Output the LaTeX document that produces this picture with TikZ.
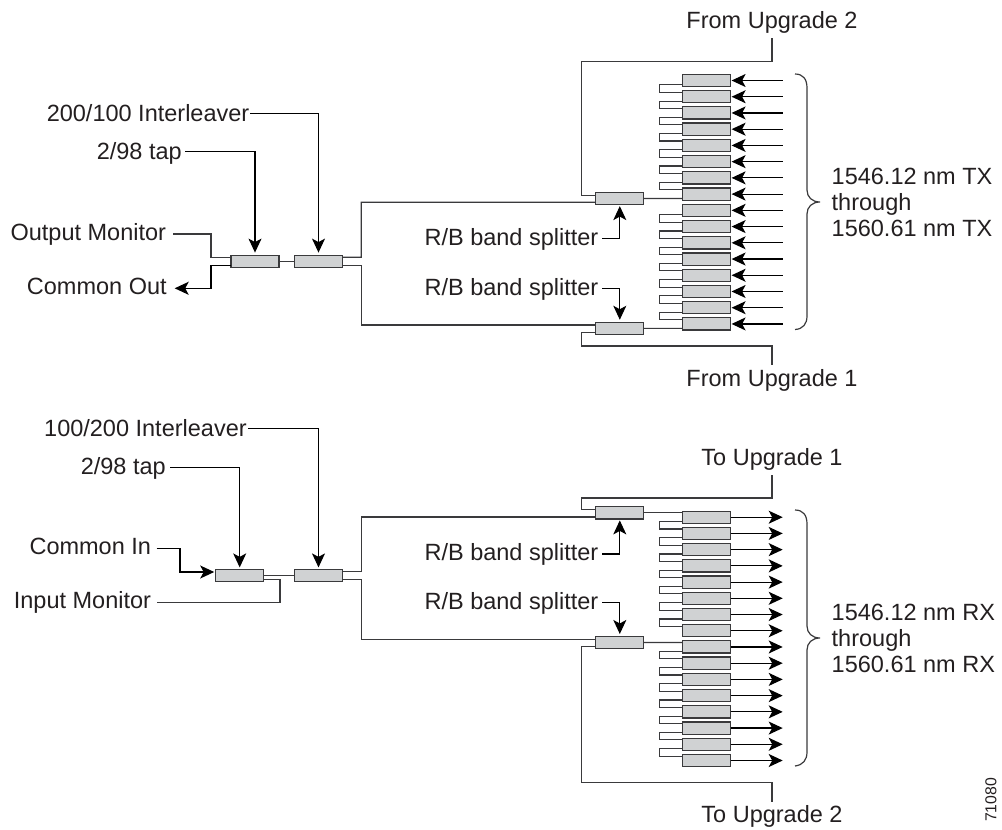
\documentclass[tikz,border=0pt]{standalone}
\usepackage{fontspec}
\setmainfont{Liberation Sans}
\usetikzlibrary{arrows.meta,calc}
\definecolor{boxfill}{HTML}{D0D2D3}
\definecolor{ink}{HTML}{3A3A3C}
\definecolor{txt}{HTML}{231F20}
\tikzset{
  dev/.style={draw=ink,fill=boxfill,line width=1.2pt,minimum width=48pt,minimum height=12.2pt,inner sep=0pt,outer sep=0pt},
  wire/.style={draw=ink,line width=1.15pt},
  arrowed/.style={draw=black,line width=1.15pt,-{Stealth[length=14pt,width=13pt,inset=3.5pt]}},
  lab/.style={text=txt,font=\fontsize{23.5}{26}\selectfont,inner ysep=0pt,inner xsep=0pt,outer sep=0pt,text height=16.8pt,text depth=0pt},
  labs/.style={text=txt,font=\fontsize{23.5}{26}\selectfont,inner sep=0pt,outer sep=0pt,align=left},
  bracepath/.style={draw=ink,line width=1.2pt}
}
\begin{document}
\begin{tikzpicture}[x=1pt,y=-1pt]
\useasboundingbox (0,0) rectangle (1002,830);
% --- upper rack
\foreach \i in {0,...,15}{
  \node[dev] (u\i) at (706.6,{80.5+16.23*\i}) {};
  \coordinate (ua\i) at (782.7,{80.5+16.23*\i});
  \draw[arrowed,shorten >=1pt] (ua\i) -- (u\i.east);
}
\foreach \i/\j in {0/1,1/2,2/3,3/4,4/5,5/6,6/7,8/9,9/10,10/11,11/12,12/13,13/14,14/15}{
  \draw[wire] ([yshift=-4.4pt]u\i.west) -- ++(-23.5,0) |- ([yshift=4.4pt]u\j.west);
}
% --- lower rack
\foreach \i in {0,...,15}{
  \node[dev] (l\i) at (706.6,{517.2+16.22*\i}) {};
  \coordinate (la\i) at (782.7,{517.2+16.22*\i});
  \draw[arrowed] (l\i.east) -- (la\i);
}
\foreach \i/\j in {0/1,1/2,2/3,3/4,4/5,5/6,6/7,8/9,9/10,10/11,11/12,12/13,13/14,14/15}{
  \draw[wire] ([yshift=-4.4pt]l\i.west) -- ++(-23.5,0) |- ([yshift=4.4pt]l\j.west);
}
% --- splitters
\node[dev] (su1) at (619.8,198.51) {};
\node[dev] (su2) at (619.8,328.35) {};
\node[dev] (sl1) at (619.8,512.8) {};
\node[dev] (sl2) at (619.8,642.56) {};
% --- interleavers and taps
\node[dev] (ta) at (255,261.2) {};
\node[dev] (ia) at (318.5,261.2) {};
\node[dev] (tb) at (239.7,575.5) {};
\node[dev] (ib) at (318.5,575.5) {};
% --- labels
\node[lab,anchor=center] (fu2) at (772,19.7) {From Upgrade 2};
\node[lab,anchor=center] (fu1) at (772,378.3) {From Upgrade 1};
\node[lab,anchor=center] (tu1) at (772,456.7) {To Upgrade 1};
\node[lab,anchor=center] (tu2) at (772,814) {To Upgrade 2};
\node[lab,anchor=east,inner xsep=0.7pt] (i200) at (250,113.3) {200/100 Interleaver};
\node[lab,anchor=east,inner xsep=3.3pt] (t298a) at (185,150.8) {2/98 tap};
\node[lab,anchor=east,inner xsep=7.3pt] (om) at (173.3,231.7) {Output Monitor};
\node[lab,anchor=east,inner xsep=8pt] (co) at (174.7,285.7) {Common Out};
\node[lab,anchor=east,inner xsep=4pt] (rb1) at (602.3,236.7) {R/B band splitter};
\node[lab,anchor=east,inner xsep=4pt] (rb2) at (602.3,286.7) {R/B band splitter};
\node[lab,anchor=east,inner xsep=1.3pt] (i100) at (248,428.5) {100/200 Interleaver};
\node[lab,anchor=east,inner xsep=4.3pt] (t298b) at (170,466) {2/98 tap};
\node[lab,anchor=east,inner xsep=5.7pt] (ci) at (156.7,546.3) {Common In};
\node[lab,anchor=east,inner xsep=6pt] (im) at (157,600) {Input Monitor};
\node[lab,anchor=east,inner xsep=4pt] (rb3) at (602.3,552.4) {R/B band splitter};
\node[lab,anchor=east,inner xsep=4pt] (rb4) at (602.3,601) {R/B band splitter};
\node[labs,anchor=west] (txl) at (831.7,202.7) {1546.12 nm TX\\through\\1560.61 nm TX};
\node[labs,anchor=west] (rxl) at (831.7,638.7) {1546.12 nm RX\\through\\1560.61 nm RX};
\node[text=txt,font=\fontsize{15.8}{18}\selectfont,rotate=90,inner sep=0pt] (code) at (991,800) {71080};
% --- upper left wiring
\draw[wire] (ta.east) -- (ia.west);
\draw[wire] ([yshift=-2.3pt]om.east) -| (211,257.3) -- ([yshift=3.9pt]ta.west);
\draw[arrowed] ([yshift=-3.9pt]ta.west) -| (211,288.3) -- ([yshift=-2.6pt]co.east);
\draw[arrowed,shorten >=2.5pt] ([yshift=-0.9pt]t298a.east) -| (ta.north);
\draw[arrowed,shorten >=2.5pt] (i200.east) -| (ia.north);
\draw[wire] ([yshift=3.9pt]ia.east) -| (361.3,202.3) -- ([yshift=-3.8pt]su1.west);
\draw[wire] ([yshift=-3.9pt]ia.east) -| (361.3,325) -- ([yshift=3.35pt]su2.west);
% --- upper right wiring
\draw[wire,shorten >=10.2pt] ([yshift=3.2pt]su1.west) -| (581.3,61.7) -| (fu2.south);
\draw[wire,shorten >=4.9pt] ([yshift=-4.3pt]su2.west) -| (581.3,346) -| (fu1.north);
\draw[wire] (su1.east) -- ([yshift=-4.4pt]u7.west);
\draw[wire] (su2.east) -- ([yshift=-4.4pt]u15.west);
\draw[arrowed,shorten >=1.5pt] ([yshift=-1.6pt]rb1.east) -| (su1.south);
\draw[arrowed,shorten >=2.5pt] ([yshift=-1.6pt]rb2.east) -| (su2.north);
% --- lower left wiring
\draw[wire] (tb.east) -- (ib.west);
\draw[arrowed,shorten >=1.5pt] ([yshift=-2pt]ci.east) -| (180,572) -- ([yshift=3.5pt]tb.west);
\draw[wire] ([yshift=-2.7pt]im.east) -| (280,579.3) -- ([yshift=-3.8pt]tb.east);
\draw[arrowed,shorten >=2pt] ([yshift=-1.3pt]t298b.east) -| (tb.north);
\draw[arrowed,shorten >=2pt] (i100.east) -| (ib.north);
\draw[wire] ([yshift=3.8pt]ib.east) -| (361.3,517) -- ([yshift=-4.2pt]sl1.west);
\draw[wire] ([yshift=-3.8pt]ib.east) -| (361.3,639.3) -- ([yshift=3.26pt]sl2.west);
% --- lower right wiring
\draw[wire,shorten >=9.9pt] ([yshift=3.1pt]sl1.west) -| (581.3,498) -| (tu1.south);
\draw[wire,shorten >=3.9pt] ([yshift=-4.14pt]sl2.west) -| (581.3,782.3) -| (tu2.north);
\draw[wire] (sl1.east) -- ([yshift=4.4pt]l0.west);
\draw[wire] (sl2.east) -- ([yshift=4.4pt]l8.west);
\draw[arrowed,shorten >=1.5pt] ([yshift=-1.6pt]rb3.east) -| (sl1.south);
\draw[arrowed,shorten >=2.5pt] ([yshift=-1.7pt]rb4.east) -| (sl2.north);
% --- braces
\draw[bracepath] (795,74) .. controls (803,74) and (807,79) .. (807,88) -- (807,190) .. controls (807,197) and (812,202) .. (820,202) .. controls (812,202) and (807,207) .. (807,214) -- (807,316) .. controls (807,324) and (803,329) .. (795,329.5);
\draw[bracepath] (795,510) .. controls (803,510) and (807,515) .. (807,524) -- (807,626) .. controls (807,633) and (812,638) .. (820,638) .. controls (812,638) and (807,643) .. (807,650) -- (807,752) .. controls (807,760) and (803,765) .. (795,766);
\end{tikzpicture}
\end{document}
